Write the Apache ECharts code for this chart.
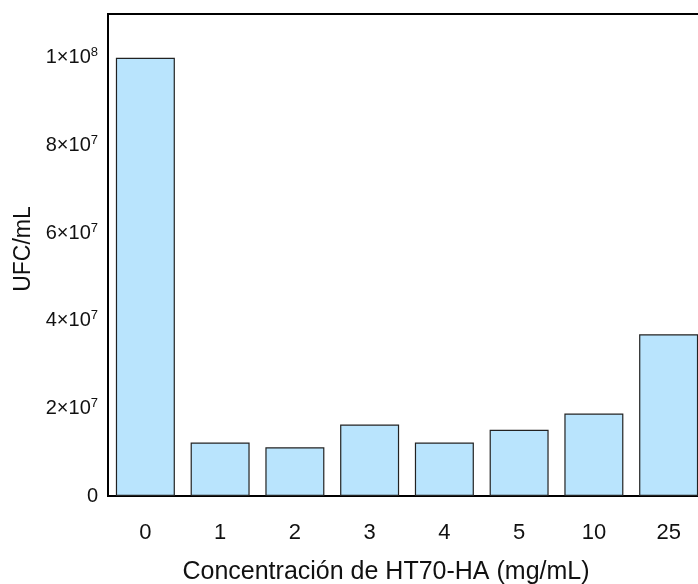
<!DOCTYPE html>
<html>
<head>
<meta charset="utf-8">
<script src="https://cdn.jsdelivr.net/npm/echarts@6/dist/echarts.min.js"></script>
<style>
  html, body { margin: 0; padding: 0; background: #fff; overflow: hidden; }
  #chart { width: 720px; height: 584px; }
</style>
</head>
<body>
<div id="chart"></div>
<script>
// Bacterial counts (UFC/mL) per HT70-HA concentration
const categories = ['0', '1', '2', '3', '4', '5', '10', '25'];
const ufcValues = [1.0e8, 1.22e7, 1.11e7, 1.63e7, 1.22e7, 1.51e7, 1.88e7, 3.69e7];
const yTicks = { min: 0, max: 1.1e8, step: 2e7 };

const FONT = 'Liberation Sans, Arial, sans-serif';

function sciLabel(v) {
  if (v === 0) return '0';
  const e = Math.floor(Math.log10(v) + 1e-9);
  const m = Math.round(v / Math.pow(10, e));
  return m + '×10{sup|' + e + '}';
}

const chart = echarts.init(document.getElementById('chart'));
chart.setOption({
  animation: false,
  backgroundColor: '#ffffff',
  grid: {
    left: 108, top: 14, width: 598, height: 482,
    outerBoundsMode: 'none',
    containLabel: false,
    show: true, borderColor: '#000', borderWidth: 2, backgroundColor: 'transparent'
  },
  xAxis: {
    type: 'category',
    data: categories,
    name: 'Concentración de HT70-HA (mg/mL)',
    nameLocation: 'middle',
    nameGap: 64,
    nameTextStyle: { fontFamily: FONT, fontSize: 25, color: '#111', padding: [0, 42, 0, 0] },
    axisLine: { lineStyle: { color: '#000', width: 2 } },
    axisTick: { alignWithLabel: true, length: 9, lineStyle: { color: '#000', width: 2 } },
    axisLabel: { margin: 26, fontFamily: FONT, fontSize: 22, color: '#111' }
  },
  yAxis: {
    type: 'value',
    min: yTicks.min, max: yTicks.max, interval: yTicks.step,
    name: 'UFC/mL',
    nameLocation: 'middle',
    nameRotate: 90,
    nameGap: 71,
    nameTextStyle: { fontFamily: FONT, fontSize: 23, color: '#111', padding: [0, 0, 0, 12] },
    axisLine: { show: true, lineStyle: { color: '#000', width: 2 } },
    axisTick: { show: false },
    splitLine: { show: false },
    axisLabel: {
      showMaxLabel: false,
      margin: 10,
      fontFamily: FONT, fontSize: 20, color: '#111',
      formatter: sciLabel,
      rich: {
        sup: { fontFamily: FONT, fontSize: 13, color: '#111', padding: [0, 0, 10, 0] }
      }
    }
  },
  series: [{
    type: 'bar',
    data: ufcValues,
    barWidth: 59,
    itemStyle: { color: '#b9e4fd', borderColor: '#222', borderWidth: 1.2 }
  }]
});
</script>
</body>
</html>
